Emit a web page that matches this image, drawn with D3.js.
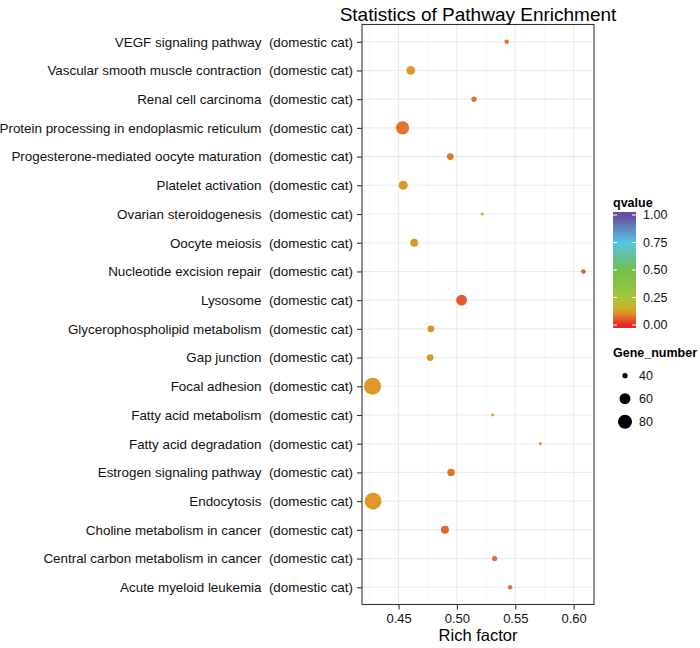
<!DOCTYPE html>
<html>
<head>
<meta charset="utf-8">
<script src="https://cdn.jsdelivr.net/npm/d3@7"></script>
<style>
  html, body { margin: 0; padding: 0; background: #fff; }
  svg { display: block; font-family: "Liberation Sans", Arial, Helvetica, sans-serif; }
</style>
</head>
<body>
<svg id="chart" width="700" height="648"></svg>
<script>
// ---- data (top to bottom as displayed) ----
const pathways = [
  "VEGF signaling pathway",
  "Vascular smooth muscle contraction",
  "Renal cell carcinoma",
  "Protein processing in endoplasmic reticulum",
  "Progesterone-mediated oocyte maturation",
  "Platelet activation",
  "Ovarian steroidogenesis",
  "Oocyte meiosis",
  "Nucleotide excision repair",
  "Lysosome",
  "Glycerophospholipid metabolism",
  "Gap junction",
  "Focal adhesion",
  "Fatty acid metabolism",
  "Fatty acid degradation",
  "Estrogen signaling pathway",
  "Endocytosis",
  "Choline metabolism in cancer",
  "Central carbon metabolism in cancer",
  "Acute myeloid leukemia"
];
const organism = "(domestic cat)";
const richFactor = [0.5426, 0.4605, 0.5146, 0.4534, 0.4943, 0.4540, 0.5217, 0.4634, 0.6084, 0.5040,
                    0.4777, 0.4771, 0.4277, 0.5306, 0.5715, 0.4949, 0.4282, 0.4897, 0.5323, 0.5455];
const geneNumber = [39, 50, 40, 75, 43, 51, 38, 47, 39, 59,
                    43, 43, 105, 38, 38, 45, 104, 47, 40, 39];
const qvalue = [0.075, 0.11, 0.075, 0.075, 0.075, 0.11, 0.11, 0.11, 0.055, 0.05,
                0.105, 0.105, 0.11, 0.11, 0.08, 0.07, 0.11, 0.065, 0.072, 0.075];
const xTicks = [0.45, 0.50, 0.55, 0.60];
const qTicks = [0, 0.25, 0.5, 0.75, 1];
const sizeLegend = [40, 60, 80];
const qStops = [0, 0.12, 0.25, 0.5, 0.75, 1];
const qColors = ["#E8252A", "#DDA22A", "#A4C63C", "#72BF4C", "#56C4E6", "#6A4C9E"];

const title = "Statistics of Pathway Enrichment";
const xTitle = "Rich factor";

// ---- layout ----
const svg = d3.select("#chart");
const panel = { left: 362, right: 594, top: 24.5, bottom: 604.5 };

// x scale with 5% expansion
const ext = d3.extent(richFactor);
const pad = (ext[1] - ext[0]) * 0.05;
const x = d3.scaleLinear().domain([ext[0] - pad, ext[1] + pad]).range([panel.left, panel.right]);

// y point scale with 0.6 expansion
const y = d3.scalePoint().domain(pathways).range([panel.top, panel.bottom]).padding(0.6);

// size scale (ggplot-like area scale)
const gExt = d3.extent(geneNumber);
const gNorm = d3.scaleLinear().domain(gExt).range([0, 1]).clamp(true);
const rLin = d3.scaleLinear().domain([0, 1]).range([1.4, 8.5]);
const r = g => rLin(Math.sqrt(gNorm(g)));

// colour scale
const color = d3.scaleLinear().domain(qStops).range(qColors).interpolate(d3.interpolateRgb);

// ---- panel background and grid ----
svg.append("rect").attr("x", panel.left).attr("y", panel.top)
  .attr("width", panel.right - panel.left).attr("height", panel.bottom - panel.top)
  .attr("fill", "#fff");

const minorTicks = d3.range(0.425, 0.62, 0.05).map(v => +v.toFixed(3));
svg.append("g").selectAll("line").data(minorTicks).join("line")
  .attr("x1", d => x(d)).attr("x2", d => x(d))
  .attr("y1", panel.top).attr("y2", panel.bottom)
  .attr("stroke", "#F3F3F3").attr("stroke-width", 0.6);

svg.append("g").selectAll("line").data(xTicks).join("line")
  .attr("x1", d => x(d)).attr("x2", d => x(d))
  .attr("y1", panel.top).attr("y2", panel.bottom)
  .attr("stroke", "#EBEBEB").attr("stroke-width", 1.1);

svg.append("g").selectAll("line").data(pathways).join("line")
  .attr("x1", panel.left).attr("x2", panel.right)
  .attr("y1", d => y(d)).attr("y2", d => y(d))
  .attr("stroke", "#EBEBEB").attr("stroke-width", 1.1);

// ---- points ----
const pts = pathways.map((p, i) => ({ p, rf: richFactor[i], g: geneNumber[i], q: qvalue[i] }));
svg.append("g").selectAll("circle").data(pts).join("circle")
  .attr("cx", d => x(d.rf)).attr("cy", d => y(d.p))
  .attr("r", d => r(d.g))
  .attr("fill", d => color(d.q));

// ---- panel border ----
svg.append("rect").attr("x", panel.left).attr("y", panel.top)
  .attr("width", panel.right - panel.left).attr("height", panel.bottom - panel.top)
  .attr("fill", "none").attr("stroke", "#333").attr("stroke-width", 1.1);

// ---- axes ----
const yAxis = d3.axisLeft(y).tickSize(5).tickPadding(4)
  .tickFormat(d => d + "\u00A0\u00A0" + organism);
const gy = svg.append("g").attr("transform", `translate(${panel.left},0)`).call(yAxis);
gy.select(".domain").remove();
gy.selectAll(".tick line").attr("stroke", "#333").attr("stroke-width", 1.1);
gy.selectAll(".tick text").attr("fill", "#111").style("font-size", "13.4px")
  .style("font-family", "'Liberation Sans', Arial, sans-serif");

const xAxis = d3.axisBottom(x).tickValues(xTicks).tickSize(5).tickPadding(4)
  .tickFormat(d3.format(".2f"));
const gx = svg.append("g").attr("transform", `translate(0,${panel.bottom})`).call(xAxis);
gx.select(".domain").remove();
gx.selectAll(".tick line").attr("stroke", "#333").attr("stroke-width", 1.1);
gx.selectAll(".tick text").attr("fill", "#111").style("font-size", "13px")
  .style("font-family", "'Liberation Sans', Arial, sans-serif");

svg.append("text").attr("x", (panel.left + panel.right) / 2).attr("y", 641)
  .attr("text-anchor", "middle").attr("fill", "#000")
  .style("font-size", "16.5px").text(xTitle);

svg.append("text").attr("x", (panel.left + panel.right) / 2).attr("y", 21)
  .attr("text-anchor", "middle").attr("fill", "#000")
  .style("font-size", "19px").text(title);

// ---- colour legend ----
const lg = svg.append("g");
lg.append("text").attr("x", 613).attr("y", 207).style("font-size", "12.5px")
  .style("font-weight", "bold").attr("fill", "#000").text("qvalue");

const barTop = 212, barBot = 328, barX = 613, barW = 23;
const qy = d3.scaleLinear().domain([0, 1]).range([325, 215]);
const grad = svg.append("defs").append("linearGradient").attr("id", "qgrad")
  .attr("gradientUnits", "userSpaceOnUse")
  .attr("x1", 0).attr("x2", 0).attr("y1", qy(0)).attr("y2", qy(1));
d3.range(0, 1.0001, 0.05).forEach(v => {
  grad.append("stop").attr("offset", v).attr("stop-color", color(v));
});
lg.append("rect").attr("x", barX).attr("y", barTop).attr("width", barW)
  .attr("height", barBot - barTop).attr("fill", "url(#qgrad)");
lg.selectAll("line.tl").data(qTicks).join("line").attr("class", "tl")
  .attr("x1", barX).attr("x2", barX + 4).attr("y1", d => qy(d)).attr("y2", d => qy(d))
  .attr("stroke", "#fff").attr("stroke-width", 1);
lg.selectAll("line.tr").data(qTicks).join("line").attr("class", "tr")
  .attr("x1", barX + barW - 4).attr("x2", barX + barW).attr("y1", d => qy(d)).attr("y2", d => qy(d))
  .attr("stroke", "#fff").attr("stroke-width", 1);
lg.selectAll("text.ql").data(qTicks).join("text").attr("class", "ql")
  .attr("x", 643).attr("y", d => qy(d)).attr("dy", "0.35em")
  .style("font-size", "12.5px").attr("fill", "#111").text(d3.format(".2f"));

// ---- size legend ----
const sg = svg.append("g");
sg.append("text").attr("x", 613).attr("y", 357).style("font-size", "12.5px")
  .style("font-weight", "bold").attr("fill", "#000").text("Gene_number");
const sy = d3.scalePoint().domain(sizeLegend).range([375.7, 421.7]);
sg.selectAll("circle").data(sizeLegend).join("circle")
  .attr("cx", 625).attr("cy", d => sy(d)).attr("r", d => r(d)).attr("fill", "#000");
sg.selectAll("text.sl").data(sizeLegend).join("text").attr("class", "sl")
  .attr("x", 639).attr("y", d => sy(d)).attr("dy", "0.35em")
  .style("font-size", "12.5px").attr("fill", "#111").text(d => d);
</script>
</body>
</html>
